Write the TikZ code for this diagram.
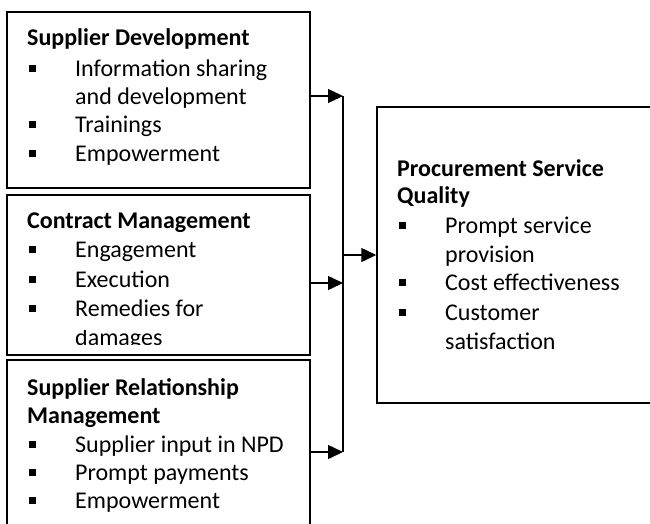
\documentclass[tikz,border=0pt]{standalone}
\usepackage{fontspec}
\setmainfont{Carlito}
\usetikzlibrary{arrows.meta}

\newcommand{\blt}{\makebox[46pt][l]{\rule[4pt]{7pt}{7pt}}}

\begin{document}
\begin{tikzpicture}[x=1pt,y=-1pt,
    box/.style={draw, line width=1.5pt, rectangle, inner sep=0pt},
    txt/.style={anchor=base west, inner sep=0pt, font=\fontsize{24}{28}\selectfont},
    hd/.style={txt, font=\fontsize{24}{28}\selectfont\bfseries},
    arr/.style={line width=1.5pt, -{Triangle[length=15pt,width=14pt]}}]

      \useasboundingbox (0,0) rectangle (650,523);

      % left boxes
      \node[box, minimum width=303pt, minimum height=176pt] (sd) at (158.5,100) {};
      \node[box, minimum width=303pt, minimum height=160pt] (cm) at (158.5,275) {};
      \node[box, minimum width=303pt, minimum height=180pt] (srm) at (158.5,450) {};

      % right box
      \node[box, minimum width=303pt, minimum height=296pt] (psq) at (528.5,255) {};

      \node[hd] (sdh) at (27,45) {Supplier Development};
      \node[txt] (sd1) at (29,76) {\blt Information sharing};
      \node[txt] (sd1b) at (75,104) {and development};
      \node[txt] (sd2) at (29,132) {\blt Trainings};
      \node[txt] (sd3) at (29,161) {\blt Empowerment};

      \node[hd] (cmh) at (27,228) {Contract Management};
      \node[txt] (cm1) at (29,257) {\blt Engagement};
      \node[txt] (cm2) at (29,287) {\blt Execution};
      \node[txt] (cm3) at (29,316) {\blt Remedies for};
      \begin{scope}
        \clip (7,330) rectangle (310,344.5);
        \node[txt] (cm3b) at (75,345) {damages};
      \end{scope}

      \node[hd] (srmh) at (27,395) {Supplier Relationship};
      \node[hd] (srmh2) at (27,423) {Management};
      \node[txt] (srm1) at (29,452) {\blt Supplier input in NPD};
      \node[txt] (srm2) at (29,480) {\blt Prompt payments};
      \node[txt] (srm3) at (29,508) {\blt Empowerment};

      \node[hd] (psqh) at (397,176) {Procurement Service};
      \node[hd] (psqh2) at (397,203) {Quality};
      \node[txt] (psq1) at (399,233) {\blt Prompt service};
      \node[txt] (psq1b) at (445,262) {provision};
      \node[txt] (psq2) at (399,290) {\blt Cost effectiveness};
      \node[txt] (psq3) at (399,320) {\blt Customer};
      \node[txt] (psq3b) at (445,349) {satisfaction};

      % connectors
      \coordinate (j1) at (343,96);
      \coordinate (j2) at (343,283);
      \coordinate (j3) at (343,452);

      \draw[line width=1.5pt] (j1) -- (j3);
      \draw[arr] (sd.east |- j1) -- (j1);
      \draw[arr] (cm.east |- j2) -- (j2);
      \draw[arr] (srm.east |- j3) -- (j3);
      \draw[arr] (j1 |- psq.west) -- (psq.west);

    \end{tikzpicture}
\end{document}
